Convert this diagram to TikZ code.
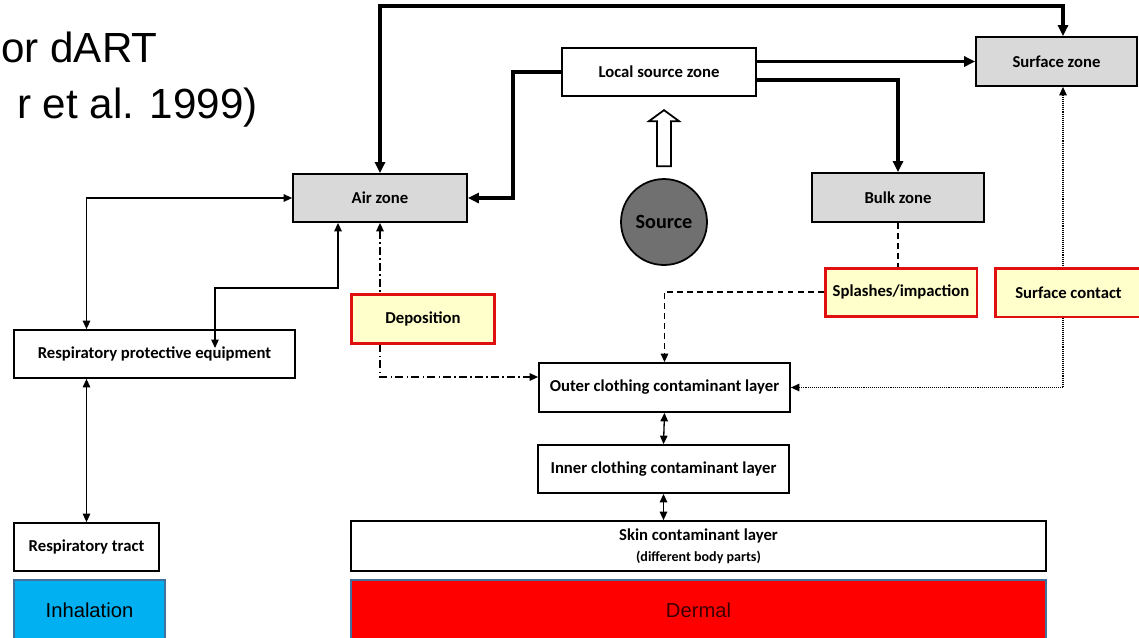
\documentclass[tikz,border=0pt]{standalone}
\usepackage{fontspec}
\setmainfont{Carlito}
\newfontfamily\arialfont{Liberation Sans}
\usetikzlibrary{arrows.meta}
\definecolor{zonegray}{HTML}{D9D9D9}
\definecolor{notefill}{HTML}{FFFFCC}
\definecolor{notered}{HTML}{E01010}
\definecolor{inhalblue}{HTML}{00B0F0}
\definecolor{routeedge}{HTML}{41719C}
\definecolor{srcgray}{HTML}{707070}
\definecolor{dermaltext}{HTML}{3A0000}
\tikzset{
  big/.tip={Triangle[length=0.22cm,width=0.2cm]},
  small/.tip={Triangle[length=0.17cm,width=0.15cm]}
}
\begin{document}
\begin{tikzpicture}[x=0.02cm,y=-0.02cm,
    box/.style={draw,line width=1pt,inner sep=1pt,align=center,
      font=\bfseries\fontsize{9.5}{11}\selectfont},
    zone/.style={box,fill=zonegray},
    note/.style={box,fill=notefill,draw=notered,line width=1.7pt},
    route/.style={draw=routeedge,line width=1.2pt,
      font=\arialfont\fontsize{11.5}{13}\selectfont},
    heading/.style={inner sep=0pt,font=\arialfont\fontsize{24}{28}\selectfont},
    heavy/.style={line width=2pt},
    light/.style={line width=0.75pt},
    dashdot/.style={line width=0.8pt,dash pattern=on 4.5pt off 1.8pt on 1pt off 1.8pt},
    dashline/.style={line width=0.8pt,dash pattern=on 3.4pt off 2.3pt},
    dotline/.style={line width=0.7pt,dash pattern=on 0.5pt off 0.6pt}]
  \useasboundingbox (0,0) rectangle (1139,637);
  \clip (0,0) rectangle (1139,637);

  % title (runs to the left edge)
  \node[heading,anchor=base west] (titlea) at (1,62) {or dART};
  \node[heading,anchor=base east] (titleb) at (258,118) {r et al. 1999)};

  % zones
  \node[zone,minimum width=3.48cm,minimum height=0.96cm] (air) at (380,198) {Air zone};
  \node[box,minimum width=3.88cm,minimum height=0.96cm] (local) at (659,72) {Local source zone};
  \node[zone,minimum width=3.22cm,minimum height=0.98cm] (surface) at (1056.5,61.5) {Surface zone};
  \node[zone,minimum width=3.44cm,minimum height=0.98cm] (bulk) at (898,197.5) {Bulk zone};
  \node[circle,draw,line width=1pt,fill=srcgray,minimum size=1.72cm,
    font=\bfseries\fontsize{11.5}{13}\selectfont] (src) at (664,222) {Source};

  % transfer processes
  \node[note,minimum width=3.04cm,minimum height=0.96cm] (splash) at (901,292) {Splashes/impaction};
  \node[note,minimum width=2.94cm,minimum height=0.98cm] (contact) at (1068.5,292.5) {Surface contact};
  \node[note,minimum width=2.88cm,minimum height=0.98cm] (depo) at (423,318.5) {Deposition};

  % layers
  \node[box,minimum width=5.62cm,minimum height=0.96cm] (rpe) at (154.5,354) {Respiratory protective equipment};
  \node[box,minimum width=5.02cm,minimum height=0.98cm] (outer) at (664.5,387.5) {Outer clothing contaminant layer};
  \node[box,minimum width=5.02cm,minimum height=0.96cm] (inner) at (663.5,469) {Inner clothing contaminant layer};
  \node[box,minimum width=13.9cm,minimum height=1cm] (skin) at (698.5,546)
    {Skin contaminant layer\\[1pt]{\fontsize{8}{9}\selectfont (different body parts)}};
  \node[box,minimum width=2.9cm,minimum height=0.96cm] (tract) at (86.5,547) {Respiratory tract};

  % exposure routes
  \node[route,fill=inhalblue,minimum width=3.02cm,minimum height=1.2cm] (inhal) at (89.5,610) {Inhalation};
  \node[route,fill=red,text=dermaltext,minimum width=13.9cm,minimum height=1.2cm] (dermal) at (698.5,610) {Dermal};

  \coordinate (topbar) at (700,6);
  \coordinate (rpetip) at (215,348);

  % emission
  \draw[line width=1pt,fill=white] ([shift={(-7,-12)}]src.north) -- ++(0,-45) -- ++(-8,0)
    -- ++(15,-11) -- ++(15,11) -- ++(-8,0) -- ++(0,45) -- cycle;

  % air flows
  \begin{scope}[heavy]
    \draw[big-big] (air.north) |- (topbar) -| ([xshift=0.13cm]surface.north);
    \draw[-big] (local.west) -- ++(-48,0) |- (air.east);
    \draw[-big] (local.east |- surface.west) -- (surface.west);
    \draw[-big] ([yshift=-0.16cm]local.east) -| (bulk.north);
  \end{scope}

  % respiratory path
  \begin{scope}[light]
    \draw[small-small] (rpe.north -| tract.north) |- (air.west);
    \draw[small-small] ([xshift=-0.84cm]air.south) -- ++(0,65) -| (rpetip);
    \draw[small-small,line width=0.6pt] (rpe.south -| tract.north) -- (tract.north);
    \draw[small-small] (outer.south) -- (inner.north);
    \draw[small-small] (inner.south) -- (inner.south |- skin.north);
  \end{scope}

  % dermal transfer
  \draw[dashdot,small-] (air.south) -- (air.south |- depo.north);
  \draw[dashdot,-small] (air.south |- depo.south) |- ([yshift=0.21cm]outer.west);
  \draw[dashline] (bulk.south) -- (bulk.south |- splash.north);
  \draw[dashline,-small] (splash.west) -| (outer.north);
  \draw[dotline,small-] ([xshift=0.13cm]surface.south) -- ([xshift=0.13cm]surface.south |- contact.north);
  \draw[dotline,-small] ([xshift=0.13cm]surface.south |- contact.south) |- (outer.east);
\end{tikzpicture}
\end{document}
